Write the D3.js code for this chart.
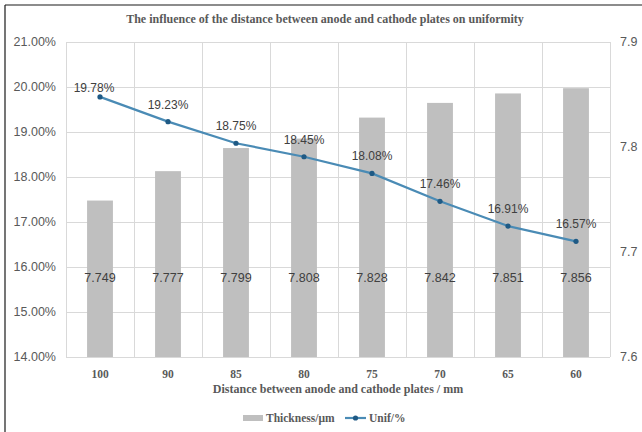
<!DOCTYPE html>
<html>
<head>
<meta charset="utf-8">
<script src="https://cdn.jsdelivr.net/npm/d3@7"></script>
<style>
  html, body { margin: 0; padding: 0; background: #fff; }
  svg { display: block; }
</style>
</head>
<body>
<script>
// Plate distance (mm) on the x axis
const distances = ["100", "90", "85", "80", "75", "70", "65", "60"];
// Coating thickness (µm), right axis
const thickness = [7.749, 7.777, 7.799, 7.808, 7.828, 7.842, 7.851, 7.856];
// Uniformity (%), left axis
const uniformity = [19.78, 19.23, 18.75, 18.45, 18.08, 17.46, 16.91, 16.57];
// Axis ticks
const leftTicks = [14, 15, 16, 17, 18, 19, 20, 21];
const rightTicks = [7.6, 7.7, 7.8, 7.9];

const W = 642, H = 432;
const plot = { left: 66, right: 610, top: 42, bottom: 357 };

const svg = d3.select("body").append("svg")
  .attr("width", W).attr("height", H);

svg.append("rect").attr("width", W).attr("height", H).attr("fill", "#fff");

// frame edges
svg.append("line").attr("x1", 5).attr("x2", W).attr("y1", 5).attr("y2", 5)
  .attr("stroke", "#1a1a1a").attr("stroke-width", 1.2);
svg.append("line").attr("x1", 5).attr("x2", 5).attr("y1", 5).attr("y2", H)
  .attr("stroke", "#1a1a1a").attr("stroke-width", 1.2);

const x = d3.scaleBand().domain(distances).range([plot.left, plot.right]).paddingInner(0).paddingOuter(0);
const yL = d3.scaleLinear().domain([14, 21]).range([plot.bottom, plot.top]);
const yR = d3.scaleLinear().domain([7.6, 7.9]).range([plot.bottom, plot.top]);

const grid = svg.append("g").attr("stroke", "#d9d9d9").attr("stroke-width", 1);
// horizontal gridlines
grid.selectAll("line.h").data(leftTicks).join("line")
  .attr("x1", plot.left).attr("x2", plot.right)
  .attr("y1", d => Math.round(yL(d)) + 0.5).attr("y2", d => Math.round(yL(d)) + 0.5);
// vertical gridlines at category boundaries
const bounds = distances.map(d => x(d)).concat([plot.right]);
grid.selectAll("line.v").data(bounds).join("line")
  .attr("x1", d => Math.round(d) + 0.5).attr("x2", d => Math.round(d) + 0.5)
  .attr("y1", plot.top).attr("y2", plot.bottom);

// thickness bars
const barW = x.bandwidth() * 0.38;
svg.append("g").selectAll("rect").data(distances).join("rect")
  .attr("x", (d) => x(d) + (x.bandwidth() - barW) / 2)
  .attr("width", barW)
  .attr("y", (d, i) => yR(thickness[i]))
  .attr("height", (d, i) => yR(7.6) - yR(thickness[i]))
  .attr("fill", "#bfbfbf");

// thickness value labels
svg.append("g").selectAll("text").data(distances).join("text")
  .attr("x", d => x(d) + x.bandwidth() / 2)
  .attr("y", yR(7.6) - 79)
  .attr("text-anchor", "middle").attr("dominant-baseline", "central")
  .attr("font-family", "Liberation Sans, Arial, sans-serif").attr("font-size", 12.5)
  .attr("fill", "#404040")
  .text((d, i) => thickness[i].toFixed(3));

// uniformity line
const cx = d => x(d) + x.bandwidth() / 2;
const line = d3.line().x((d, i) => cx(distances[i])).y(d => yL(d));
svg.append("path").datum(uniformity)
  .attr("d", line).attr("fill", "none")
  .attr("stroke", "#4a8bb5").attr("stroke-width", 2.2);
svg.append("g").selectAll("circle").data(uniformity).join("circle")
  .attr("cx", (d, i) => cx(distances[i])).attr("cy", d => yL(d))
  .attr("r", 2.6).attr("fill", "#1f5a85");

// uniformity value labels
svg.append("g").selectAll("text").data(uniformity).join("text")
  .attr("x", (d, i) => cx(distances[i]) - (i === 0 ? 6 : 0))
  .attr("y", (d, i) => yL(d) - (i === 0 ? 9 : 17))
  .attr("text-anchor", "middle").attr("dominant-baseline", "central")
  .attr("font-family", "Liberation Sans, Arial, sans-serif").attr("font-size", 12)
  .attr("fill", "#404040")
  .text(d => d.toFixed(2) + "%");

// left axis labels
svg.append("g").selectAll("text").data(leftTicks).join("text")
  .attr("x", 56).attr("y", d => yL(d))
  .attr("text-anchor", "end").attr("dominant-baseline", "central")
  .attr("font-family", "Liberation Sans, Arial, sans-serif").attr("font-size", 12.5)
  .attr("fill", "#595959")
  .text(d => d.toFixed(2) + "%");

// right axis labels
svg.append("g").selectAll("text").data(rightTicks).join("text")
  .attr("x", 620).attr("y", d => yR(d))
  .attr("text-anchor", "start").attr("dominant-baseline", "central")
  .attr("font-family", "Liberation Sans, Arial, sans-serif").attr("font-size", 12.5)
  .attr("fill", "#595959")
  .text(d => d.toFixed(1));

// category labels
svg.append("g").selectAll("text").data(distances).join("text")
  .attr("x", d => cx(d)).attr("y", 374)
  .attr("text-anchor", "middle").attr("dominant-baseline", "central")
  .attr("font-family", "Liberation Serif, Times New Roman, serif").attr("font-weight", "bold")
  .attr("font-size", 11.5).attr("fill", "#595959")
  .text(d => d);

// axis title
svg.append("text")
  .attr("x", (plot.left + plot.right) / 2).attr("y", 389)
  .attr("text-anchor", "middle").attr("dominant-baseline", "central")
  .attr("font-family", "Liberation Serif, Times New Roman, serif").attr("font-weight", "bold")
  .attr("font-size", 12).attr("fill", "#595959")
  .text("Distance between anode and cathode plates / mm");

// chart title
svg.append("text")
  .attr("x", 325).attr("y", 19)
  .attr("text-anchor", "middle").attr("dominant-baseline", "central")
  .attr("font-family", "Liberation Serif, Times New Roman, serif").attr("font-weight", "bold")
  .attr("font-size", 12).attr("fill", "#595959")
  .text("The influence of the distance between anode and cathode plates on uniformity");

// legend
const lg = svg.append("g").attr("transform", "translate(0,418)");
lg.append("rect").attr("x", 243).attr("y", -3).attr("width", 20).attr("height", 6).attr("fill", "#bfbfbf");
lg.append("text").attr("x", 266).attr("y", 0).attr("dominant-baseline", "central")
  .attr("font-family", "Liberation Serif, Times New Roman, serif").attr("font-weight", "bold")
  .attr("font-size", 11.5).attr("fill", "#595959").text("Thickness/μm");
lg.append("line").attr("x1", 345).attr("x2", 366).attr("y1", 0).attr("y2", 0)
  .attr("stroke", "#4a8bb5").attr("stroke-width", 2.2);
lg.append("circle").attr("cx", 355.5).attr("cy", 0).attr("r", 2.6).attr("fill", "#1f5a85");
lg.append("text").attr("x", 369).attr("y", 0).attr("dominant-baseline", "central")
  .attr("font-family", "Liberation Serif, Times New Roman, serif").attr("font-weight", "bold")
  .attr("font-size", 11.5).attr("fill", "#595959").text("Unif/%");
</script>
</body>
</html>
